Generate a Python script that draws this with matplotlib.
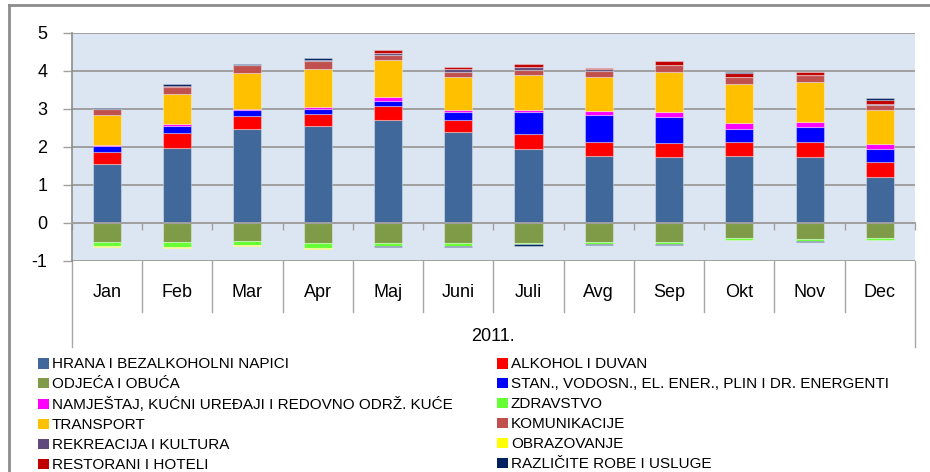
import numpy as np
import matplotlib
matplotlib.use("Agg")
import matplotlib.pyplot as plt
from matplotlib.lines import Line2D
from matplotlib.patches import Patch

plt.rcParams['font.family'] = ['Liberation Sans', 'DejaVu Sans']
plt.rcParams['axes.unicode_minus'] = False

months = ['Jan', 'Feb', 'Mar', 'Apr', 'Maj', 'Juni', 'Juli', 'Avg', 'Sep', 'Okt', 'Nov', 'Dec']
year_label = '2011.'

# doprinosi po grupama (p.p.), procitano sa slike
hrana = [1.54, 1.98, 2.48, 2.54, 2.72, 2.39, 1.94, 1.77, 1.74, 1.77, 1.74, 1.21]
alkohol = [0.32, 0.38, 0.33, 0.33, 0.35, 0.32, 0.39, 0.35, 0.36, 0.35, 0.38, 0.39]
odjeca = [-0.50, -0.50, -0.47, -0.53, -0.53, -0.53, -0.53, -0.50, -0.50, -0.41, -0.44, -0.41]
stan = [0.17, 0.20, 0.16, 0.12, 0.15, 0.20, 0.59, 0.71, 0.68, 0.36, 0.39, 0.35]
namjestaj = [0.02, 0.03, 0.03, 0.05, 0.09, 0.06, 0.06, 0.12, 0.15, 0.14, 0.15, 0.12]
zdravstvo = [-0.12, -0.13, -0.12, -0.13, -0.08, -0.09, -0.04, -0.05, -0.05, -0.05, -0.035, -0.035]
transport = [0.78, 0.80, 0.94, 1.00, 0.97, 0.87, 0.91, 0.88, 1.03, 1.04, 1.06, 0.89]
komunikacije = [0.17, 0.18, 0.21, 0.22, 0.13, 0.14, 0.14, 0.17, 0.19, 0.17, 0.175, 0.14]
rekreacija = [0, 0, 0, 0.04, 0.07, 0.06, 0.085, 0.04, 0, 0, 0, 0.02]
obrazovanje = [-0.02, -0.03, -0.02, -0.02, 0, 0, 0, 0, 0, 0, 0, 0]
restorani = [0, 0.03, 0.01, 0, 0.06, 0.07, 0.06, 0.045, 0.105, 0.105, 0.09, 0.12]
razlicite = [0.03, 0.05, 0.02, 0.04, -0.04, -0.03, -0.04, -0.04, -0.03, 0.035, -0.03, 0.035]

names = ['HRANA I BEZALKOHOLNI NAPICI', 'ALKOHOL I DUVAN', 'ODJEĆA I OBUĆA',
         'STAN., VODOSN., EL. ENER., PLIN I DR. ENERGENTI',
         'NAMJEŠTAJ, KUĆNI UREĐAJI I REDOVNO ODRŽ. KUĆE', 'ZDRAVSTVO', 'TRANSPORT',
         'KOMUNIKACIJE', 'REKREACIJA I KULTURA', 'OBRAZOVANJE', 'RESTORANI I HOTELI',
         'RAZLIČITE ROBE I USLUGE']
values = [hrana, alkohol, odjeca, stan, namjestaj, zdravstvo, transport,
          komunikacije, rekreacija, obrazovanje, restorani, razlicite]
colors = ['#41689A', '#FF0000', '#7F9B47', '#0000FF', '#FF00FF', '#66FF33', '#FFC000',
          '#C0504D', '#604A7B', '#FFFF00', '#C00000', '#002060']

fig = plt.figure(figsize=(9.3, 4.72), dpi=100)
ax = fig.add_axes([71.7 / 930, 1 - 260.7 / 472, (915 - 71.7) / 930, (260.7 - 33) / 472])
ax.set_facecolor('#DCE6F2')

x = np.arange(len(months))
pos = np.zeros(len(months))
neg = np.zeros(len(months))
for name, vals, c in zip(names, values, colors):
    v = np.array(vals, dtype=float)
    bottom = np.where(v >= 0, pos, neg)
    ax.bar(x, v, 0.4, bottom=bottom, color=c, edgecolor=(1, 1, 1, 0.35), linewidth=0.8, label=name)
    pos += np.clip(v, 0, None)
    neg += np.clip(v, None, 0)

ax.set_xlim(-0.5, len(months) - 0.5)
ax.set_ylim(-1, 5)
ax.set_yticks(range(-1, 6))
ax.set_axisbelow(True)
ax.grid(axis='y', color='#A0A0A0', linewidth=1.4)

for s in ['top', 'right']:
    ax.spines[s].set_visible(False)
ax.spines['left'].set_color('#8C8C8C')
ax.spines['left'].set_linewidth(1.2)
ax.spines['bottom'].set_position(('data', 0))
ax.spines['bottom'].set_color('#A0A0A0')
ax.spines['bottom'].set_linewidth(1.4)

ax.set_xticks([])
ax.set_xticks(np.arange(-0.5, len(months), 1), minor=True)
ax.tick_params(axis='x', which='minor', direction='out', length=5, color='#A0A0A0', width=1)
ax.tick_params(axis='y', direction='out', length=6.5, color='#A0A0A0', width=1, pad=11, labelsize=13)

# kategorije ispod grafika
trans = ax.get_xaxis_transform()
for i, m in enumerate(months):
    ax.text(i, -0.1375, m, transform=trans, ha='center', va='center', fontsize=13)
for k in range(len(months) + 1):
    bottom_y = -0.379 if k in (0, len(months)) else -0.225
    ax.add_line(Line2D([k - 0.5, k - 0.5], [0, bottom_y], transform=trans, color='#A6A6A6',
                       linewidth=1, clip_on=False))
ax.text((len(months) - 1) / 2, -0.335, year_label, transform=trans, ha='center', va='center', fontsize=13)

# okvir grafikona
fig.add_artist(Line2D([9 / 930, 1], [1 - 5 / 472, 1 - 5 / 472], color='#8C8C8C', linewidth=2))
fig.add_artist(Line2D([9 / 930, 9 / 930], [0, 1 - 5 / 472], color='#8C8C8C', linewidth=2))

# legenda u dvije kolone
handles = [Patch(facecolor=c) for c in colors]
leg_kw = dict(loc='upper left', frameon=False, fontsize=11, borderaxespad=0, borderpad=0,
              handlelength=0.7, handleheight=0.7, handletextpad=0.2, labelspacing=0.39)
fig.legend(handles[0::2], names[0::2], bbox_to_anchor=(38 / 930, 1 - 357.5 / 472), **leg_kw)
fig.legend(handles[1::2], names[1::2], bbox_to_anchor=(497 / 930, 1 - 357.5 / 472), **leg_kw)

fig.savefig('out.png', dpi=100)
